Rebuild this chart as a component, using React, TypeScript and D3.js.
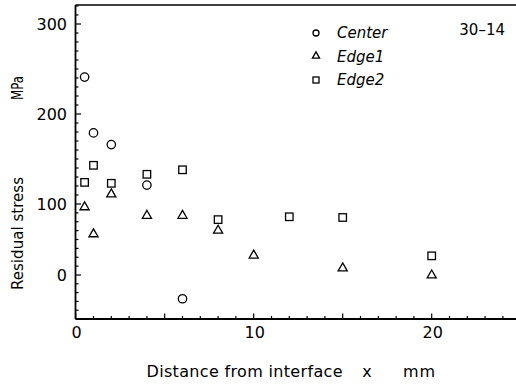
import React from "react";
import * as d3 from "d3";

const centerX = [0.5, 1, 2, 4, 6];
const centerY = [241, 179, 166, 121, -27];
const edge1X = [0.5, 1, 2, 4, 6, 8, 10, 15, 20];
const edge1Y = [97, 59, 112, 85, 85, 64, 29, 11, 1];
const edge2X = [0.5, 1, 2, 4, 6, 8, 12, 15, 20];
const edge2Y = [124, 143, 123, 133, 138, 78, 82, 81, 27];

const xTickValues = d3.range(0, 26, 1);
const xMajor = [0, 5, 10, 15, 20, 25];
const xTickLabels = [0, 10, 20];
const yTickValues = [
  -50, -40, -30, -20, -10, 0, 12.5, 25, 37.5, 50, 62.5, 75, 87.5, 100,
  110, 120, 130, 140, 150, 160, 170, 180, 190, 200, 210, 220, 230, 240,
  250, 260, 270, 280, 290, 300, 310, 320,
];
const yTickLabels = [0, 100, 200, 300];
const seriesNames = ["Center", "Edge1", "Edge2"];

const W = 516;
const H = 386;

export default function App() {
  const x = d3.scaleLinear().domain([0, 25]).range([75.7, 520.7]);
  const y = d3
    .scaleLinear()
    .domain([-50, 0, 100, 300, 321])
    .range([319, 275, 204, 24, 5]);

  const font = "'DejaVu Sans', sans-serif";
  const stroke = "#000";
  const tri = d3.symbol().type(d3.symbolTriangle).size(36)();
  const triSmall = d3.symbol().type(d3.symbolTriangle).size(22)();

  const Circle = ({ cx, cy, r }: { cx: number; cy: number; r: number }) => (
    <circle cx={cx} cy={cy} r={r} fill="none" stroke={stroke} strokeWidth={1.3} />
  );
  const Square = ({ cx, cy, s }: { cx: number; cy: number; s: number }) => (
    <rect x={cx - s / 2} y={cy - s / 2} width={s} height={s} fill="none" stroke={stroke} strokeWidth={1.3} />
  );
  const Tri = ({ cx, cy, d }: { cx: number; cy: number; d: string | null }) => (
    <path d={d || ""} transform={`translate(${cx},${cy + 1})`} fill="none" stroke={stroke} strokeWidth={1.3} />
  );

  const x0 = 75.5;
  const yBottom = 319;
  const yTop = 5;

  return (
    <svg
      width={W}
      height={H}
      style={{ position: "absolute", left: 0, top: 0, background: "#fff" }}
    >
      <rect width={W} height={H} fill="#fff" />
      {/* frame */}
      <line x1={x0} x2={W} y1={yTop} y2={yTop} stroke={stroke} strokeWidth={1.6} />
      <line x1={x0} x2={x0} y1={yTop} y2={yBottom} stroke={stroke} strokeWidth={1.8} />
      <line x1={x0} x2={W} y1={yBottom} y2={yBottom} stroke={stroke} strokeWidth={1.8} />

      {/* x ticks */}
      {xTickValues.map((v) => {
        const major = xMajor.includes(v);
        return (
          <line
            key={"xt" + v}
            x1={x(v)}
            x2={x(v)}
            y1={yBottom}
            y2={yBottom - (major ? 5.5 : 3)}
            stroke={stroke}
            strokeWidth={1.2}
          />
        );
      })}
      {xTickLabels.map((v) => (
        <text key={"xl" + v} x={x(v) + 1} y={338} textAnchor="middle" fontFamily={font} fontSize={16}>
          {v}
        </text>
      ))}

      {/* y ticks */}
      {yTickValues.map((v) => {
        const major = yTickLabels.includes(v);
        return (
          <line
            key={"yt" + v}
            x1={x0}
            x2={x0 + (major ? 5.5 : 3)}
            y1={y(v)}
            y2={y(v)}
            stroke={stroke}
            strokeWidth={1.2}
          />
        );
      })}
      {yTickLabels.map((v) => (
        <text key={"yl" + v} x={67} y={y(v) + 6} textAnchor="end" fontFamily={font} fontSize={16}>
          {v}
        </text>
      ))}

      {/* axis titles */}
      <text x={146.5} y={377} fontFamily={font} fontSize={16} textLength={196} lengthAdjust="spacing">
        Distance from interface
      </text>
      <text x={367} y={377} textAnchor="middle" fontFamily={font} fontSize={16}>
        x
      </text>
      <text x={403} y={377} fontFamily={font} fontSize={16} textLength={32} lengthAdjust="spacing">
        mm
      </text>
      <text
        transform="translate(23,290) rotate(-90)"
        fontFamily={font}
        fontSize={15}
        textLength={113}
        lengthAdjust="spacing"
      >
        Residual stress
      </text>
      <text
        transform="translate(23,100) rotate(-90)"
        fontFamily={font}
        fontSize={15}
        textLength={24}
        lengthAdjust="spacingAndGlyphs"
      >
        MPa
      </text>

      {/* data */}
      {centerX.map((v, i) => (
        <Circle key={"c" + i} cx={x(v)} cy={y(centerY[i])} r={4.2} />
      ))}
      {edge1X.map((v, i) => (
        <Tri key={"e1" + i} cx={x(v)} cy={y(edge1Y[i])} d={tri} />
      ))}
      {edge2X.map((v, i) => (
        <Square key={"e2" + i} cx={x(v)} cy={y(edge2Y[i])} s={7.5} />
      ))}

      {/* legend */}
      <Circle cx={316} cy={33} r={3} />
      <Tri cx={316} cy={55} d={triSmall} />
      <Square cx={316} cy={80} s={6} />
      {seriesNames.map((n, i) => (
        <text
          key={n}
          x={337}
          y={38 + i * 23.5}
          fontFamily={font}
          fontStyle="italic"
          fontSize={15}
        >
          {n}
        </text>
      ))}
      <text x={505} y={35} textAnchor="end" fontFamily={font} fontSize={15}>
        30–14
      </text>
    </svg>
  );
}
